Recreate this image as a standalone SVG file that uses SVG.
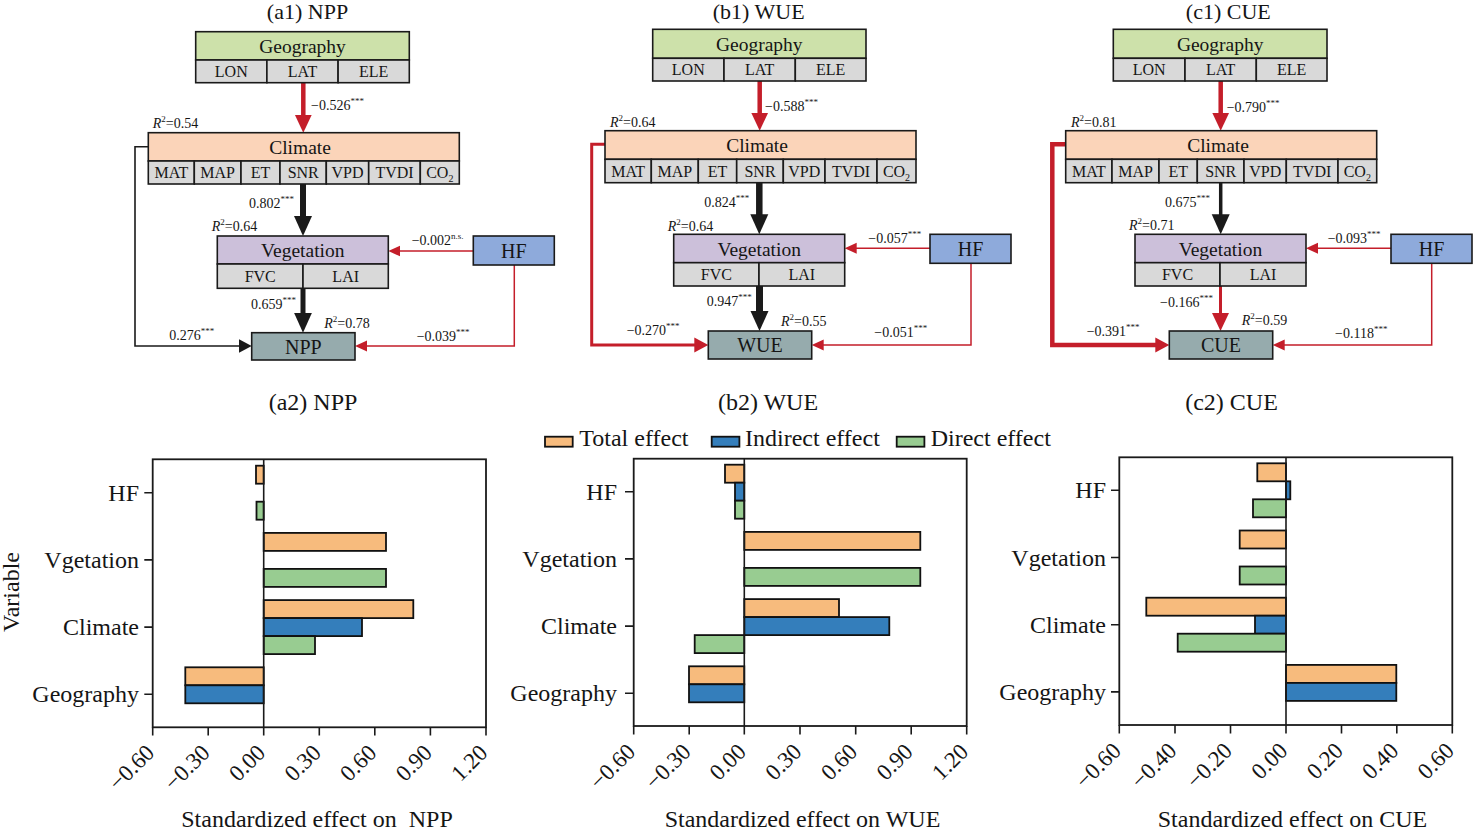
<svg xmlns="http://www.w3.org/2000/svg" width="1473" height="830" viewBox="0 0 1473 830">
<style>
text{font-family:"Liberation Serif","Times New Roman",serif;fill:#151515}
.title{font-size:24px;text-anchor:middle}
.ttop{font-size:22px;text-anchor:middle}
.hdr{font-size:19.5px;text-anchor:middle}
.cell{font-size:16px;text-anchor:middle}
.big{font-size:20px;text-anchor:middle}
.lab{font-size:14px}
.sup{font-size:9px}
.box{stroke:#1a1a1a;stroke-width:1.6}
.geo{fill:#cde1aa}.cli{fill:#fbd4b9}.veg{fill:#ccc0da}.hf{fill:#8eaadb}.out{fill:#96abad}.sub{fill:#d9d9d9}
.red{stroke:#c41e2a;fill:none;stroke-linejoin:miter}
.blk{stroke:#1a1a1a;fill:none;stroke-linejoin:miter}
.cat{font-size:24px;text-anchor:end}
.tick{font-size:23px;text-anchor:end}
.axt{font-size:24px;text-anchor:middle}
.leg{font-size:24px}
.frame{fill:none;stroke:#1a1a1a;stroke-width:1.8}
.ax{stroke:#1a1a1a;stroke-width:1.6;fill:none}
.bar{stroke:#111;stroke-width:1.8}
.tot{fill:#f7bb7d}.ind{fill:#347ebb}.dir{fill:#98cc91}
</style>
<defs>
<marker id="hBK" markerUnits="userSpaceOnUse" viewBox="0 -10 20 20" markerWidth="20" markerHeight="20" refX="1" refY="0" orient="auto"><path d="M0,-9 L20,0 L0,9 z" fill="#1a1a1a"/></marker>
<marker id="hBR" markerUnits="userSpaceOnUse" viewBox="0 -10 20 20" markerWidth="20" markerHeight="20" refX="1" refY="0" orient="auto"><path d="M0,-8.5 L18,0 L0,8.5 z" fill="#c41e2a"/></marker>
<marker id="hSR" markerUnits="userSpaceOnUse" viewBox="0 -10 20 20" markerWidth="20" markerHeight="20" refX="1" refY="0" orient="auto"><path d="M0,-5.5 L12,0 L0,5.5 z" fill="#c41e2a"/></marker>
<marker id="hMR" markerUnits="userSpaceOnUse" viewBox="0 -10 20 20" markerWidth="20" markerHeight="20" refX="1" refY="0" orient="auto"><path d="M0,-7.5 L14,0 L0,7.5 z" fill="#c41e2a"/></marker>
<marker id="hMK" markerUnits="userSpaceOnUse" viewBox="0 -10 20 20" markerWidth="20" markerHeight="20" refX="1" refY="0" orient="auto"><path d="M0,-7 L13,0 L0,7 z" fill="#1a1a1a"/></marker>
</defs>
<rect width="1473" height="830" fill="#ffffff"/>

<!-- ===== Panel a1 ===== -->
<text class="ttop" x="307.5" y="19">(a1) NPP</text>
<g id="connectors-a1">
<path class="red" stroke-width="4.5" d="M303.3,82.7 V115.7" marker-end="url(#hBR)"/>
<path class="blk" stroke-width="6" d="M303,184 V217" marker-end="url(#hBK)"/>
<path class="blk" stroke-width="5" d="M303,288.3 V313.7" marker-end="url(#hBK)"/>
<path class="red" stroke-width="1.5" d="M473.3,251 H399.3" marker-end="url(#hSR)"/>
<path class="red" stroke-width="1.5" d="M514.3,265 V346 H366" marker-end="url(#hSR)"/>
<path class="blk" stroke-width="1.6" d="M148.3,146.7 H135 V346 H239.7" marker-end="url(#hMK)"/>
<text class="lab" x="311" y="110">−0.526<tspan class="sup" dy="-6">***</tspan></text>
<text class="lab" x="249" y="208">0.802<tspan class="sup" dy="-6">***</tspan></text>
<text class="lab" x="411.7" y="245">−0.002<tspan class="sup" dy="-6">n.s.</tspan></text>
<text class="lab" x="251" y="309">0.659<tspan class="sup" dy="-6">***</tspan></text>
<text class="lab" x="169.3" y="340">0.276<tspan class="sup" dy="-6">***</tspan></text>
<text class="lab" x="416.7" y="341">−0.039<tspan class="sup" dy="-6">***</tspan></text>
</g>
<g id="a1-geography">
<rect class="box geo" x="195.7" y="31.7" width="213.6" height="28.3"/>
<rect class="box sub" x="195.7" y="60" width="71.2" height="22.7"/>
<rect class="box sub" x="266.9" y="60" width="71.2" height="22.7"/>
<rect class="box sub" x="338.1" y="60" width="71.2" height="22.7"/>
<text class="hdr" x="302.5" y="52.5">Geography</text>
<text class="cell" x="231.3" y="77">LON</text>
<text class="cell" x="302.5" y="77">LAT</text>
<text class="cell" x="373.7" y="77">ELE</text>
</g>
<g id="a1-climate">
<rect class="box cli" x="148.3" y="132.7" width="311" height="28.3"/>
<rect class="box sub" x="148.3" y="161" width="46" height="23"/>
<rect class="box sub" x="194.3" y="161" width="46.7" height="23"/>
<rect class="box sub" x="241" y="161" width="39" height="23"/>
<rect class="box sub" x="280" y="161" width="46.3" height="23"/>
<rect class="box sub" x="326.3" y="161" width="42.4" height="23"/>
<rect class="box sub" x="368.7" y="161" width="51.6" height="23"/>
<rect class="box sub" x="420.3" y="161" width="39" height="23"/>
<text class="hdr" x="300" y="153.5">Climate</text>
<text class="cell" x="171.3" y="178">MAT</text>
<text class="cell" x="217.6" y="178">MAP</text>
<text class="cell" x="260.5" y="178">ET</text>
<text class="cell" x="303.2" y="178">SNR</text>
<text class="cell" x="347.5" y="178">VPD</text>
<text class="cell" x="394.5" y="178">TVDI</text>
<text class="cell" x="439.8" y="178">CO<tspan font-size="10" dy="4">2</tspan></text>
<text class="lab" x="152.7" y="128"><tspan font-style="italic">R</tspan><tspan class="sup" dy="-6">2</tspan><tspan dy="6">=0.54</tspan></text>
</g>
<g id="a1-vegetation">
<rect class="box veg" x="217.3" y="236" width="171" height="28"/>
<rect class="box sub" x="217.3" y="264" width="85.7" height="24.3"/>
<rect class="box sub" x="303" y="264" width="85.3" height="24.3"/>
<text class="hdr" x="302.8" y="257">Vegetation</text>
<text class="cell" x="260.2" y="282">FVC</text>
<text class="cell" x="345.7" y="282">LAI</text>
<text class="lab" x="211.7" y="231"><tspan font-style="italic">R</tspan><tspan class="sup" dy="-6">2</tspan><tspan dy="6">=0.64</tspan></text>
</g>
<g id="a1-hf">
<rect class="box hf" x="473.3" y="236" width="81" height="29"/>
<text class="big" x="513.8" y="257.5">HF</text>
</g>
<g id="a1-npp">
<rect class="box out" x="251.7" y="332.7" width="103.3" height="27.3"/>
<text class="big" x="303.3" y="353.5">NPP</text>
<text class="lab" x="324.3" y="328"><tspan font-style="italic">R</tspan><tspan class="sup" dy="-6">2</tspan><tspan dy="6">=0.78</tspan></text>
</g>

<!-- ===== Panel b1 ===== -->
<text class="ttop" x="758.7" y="19">(b1) WUE</text>
<g id="connectors-b1">
<path class="red" stroke-width="4.5" d="M759.7,81 V113.7" marker-end="url(#hBR)"/>
<path class="blk" stroke-width="6.5" d="M759.3,182.7 V215.3" marker-end="url(#hBK)"/>
<path class="blk" stroke-width="7" d="M759.5,286 V312" marker-end="url(#hBK)"/>
<path class="red" stroke-width="1.5" d="M930,248.3 H855.7" marker-end="url(#hSR)"/>
<path class="red" stroke-width="1.5" d="M971,263.3 V345 H822.7" marker-end="url(#hSR)"/>
<path class="red" stroke-width="3" d="M605,144.3 H591.7 V345 H695.3" marker-end="url(#hMR)"/>
<text class="lab" x="765" y="111">−0.588<tspan class="sup" dy="-6">***</tspan></text>
<text class="lab" x="704.3" y="206.7">0.824<tspan class="sup" dy="-6">***</tspan></text>
<text class="lab" x="868.3" y="243.3">−0.057<tspan class="sup" dy="-6">***</tspan></text>
<text class="lab" x="706.7" y="306">0.947<tspan class="sup" dy="-6">***</tspan></text>
<text class="lab" x="626.7" y="335">−0.270<tspan class="sup" dy="-6">***</tspan></text>
<text class="lab" x="874.3" y="336.7">−0.051<tspan class="sup" dy="-6">***</tspan></text>
</g>
<g id="b1-geography">
<rect class="box geo" x="652.7" y="29.3" width="213.3" height="29"/>
<rect class="box sub" x="652.7" y="58.3" width="71.3" height="22.7"/>
<rect class="box sub" x="724" y="58.3" width="71.3" height="22.7"/>
<rect class="box sub" x="795.3" y="58.3" width="70.7" height="22.7"/>
<text class="hdr" x="759.3" y="50.5">Geography</text>
<text class="cell" x="688.3" y="75">LON</text>
<text class="cell" x="759.7" y="75">LAT</text>
<text class="cell" x="830.7" y="75">ELE</text>
</g>
<g id="b1-climate">
<rect class="box cli" x="605" y="130.7" width="311" height="28.6"/>
<rect class="box sub" x="605" y="159.3" width="46.3" height="23.4"/>
<rect class="box sub" x="651.3" y="159.3" width="47" height="23.4"/>
<rect class="box sub" x="698.3" y="159.3" width="38.4" height="23.4"/>
<rect class="box sub" x="736.7" y="159.3" width="46.6" height="23.4"/>
<rect class="box sub" x="783.3" y="159.3" width="41.7" height="23.4"/>
<rect class="box sub" x="825" y="159.3" width="52" height="23.4"/>
<rect class="box sub" x="877" y="159.3" width="39" height="23.4"/>
<text class="hdr" x="757" y="151.5">Climate</text>
<text class="cell" x="628.2" y="176.5">MAT</text>
<text class="cell" x="674.8" y="176.5">MAP</text>
<text class="cell" x="717.5" y="176.5">ET</text>
<text class="cell" x="760" y="176.5">SNR</text>
<text class="cell" x="804.2" y="176.5">VPD</text>
<text class="cell" x="851" y="176.5">TVDI</text>
<text class="cell" x="896.5" y="176.5">CO<tspan font-size="10" dy="4">2</tspan></text>
<text class="lab" x="610" y="127.3"><tspan font-style="italic">R</tspan><tspan class="sup" dy="-6">2</tspan><tspan dy="6">=0.64</tspan></text>
</g>
<g id="b1-vegetation">
<rect class="box veg" x="673.7" y="234.3" width="171" height="28.4"/>
<rect class="box sub" x="673.7" y="262.7" width="85.3" height="23.3"/>
<rect class="box sub" x="759" y="262.7" width="85.7" height="23.3"/>
<text class="hdr" x="759.2" y="255.5">Vegetation</text>
<text class="cell" x="716.3" y="280">FVC</text>
<text class="cell" x="801.8" y="280">LAI</text>
<text class="lab" x="667.7" y="231"><tspan font-style="italic">R</tspan><tspan class="sup" dy="-6">2</tspan><tspan dy="6">=0.64</tspan></text>
</g>
<g id="b1-hf">
<rect class="box hf" x="930" y="234.3" width="81" height="29"/>
<text class="big" x="970.5" y="256">HF</text>
</g>
<g id="b1-wue">
<rect class="box out" x="708.3" y="331" width="103.4" height="28"/>
<text class="big" x="760" y="352">WUE</text>
<text class="lab" x="781" y="326"><tspan font-style="italic">R</tspan><tspan class="sup" dy="-6">2</tspan><tspan dy="6">=0.55</tspan></text>
</g>

<!-- ===== Panel c1 ===== -->
<text class="ttop" x="1228.3" y="19">(c1) CUE</text>
<g id="connectors-c1">
<path class="red" stroke-width="4.5" d="M1220.7,81 V113.7" marker-end="url(#hBR)"/>
<path class="blk" stroke-width="3.5" d="M1220.7,182.7 V215.3" marker-end="url(#hBK)"/>
<path class="red" stroke-width="3" d="M1220.5,286 V314" marker-end="url(#hBR)"/>
<path class="red" stroke-width="1.5" d="M1391,248.3 H1317" marker-end="url(#hSR)"/>
<path class="red" stroke-width="1.5" d="M1431.7,263.3 V345 H1283.7" marker-end="url(#hSR)"/>
<path class="red" stroke-width="4.5" d="M1065.7,144.3 H1052.3 V345 H1156.3" marker-end="url(#hMR)"/>
<text class="lab" x="1226.7" y="111.7">−0.790<tspan class="sup" dy="-6">***</tspan></text>
<text class="lab" x="1165" y="206.7">0.675<tspan class="sup" dy="-6">***</tspan></text>
<text class="lab" x="1327.7" y="243.3">−0.093<tspan class="sup" dy="-6">***</tspan></text>
<text class="lab" x="1160" y="306.7">−0.166<tspan class="sup" dy="-6">***</tspan></text>
<text class="lab" x="1086.7" y="336">−0.391<tspan class="sup" dy="-6">***</tspan></text>
<text class="lab" x="1335" y="338.3">−0.118<tspan class="sup" dy="-6">***</tspan></text>
</g>
<g id="c1-geography">
<rect class="box geo" x="1113.3" y="29.3" width="213.7" height="29"/>
<rect class="box sub" x="1113.3" y="58.3" width="71.7" height="22.7"/>
<rect class="box sub" x="1185" y="58.3" width="71.3" height="22.7"/>
<rect class="box sub" x="1256.3" y="58.3" width="70.7" height="22.7"/>
<text class="hdr" x="1220.2" y="50.5">Geography</text>
<text class="cell" x="1149.2" y="75">LON</text>
<text class="cell" x="1220.7" y="75">LAT</text>
<text class="cell" x="1291.7" y="75">ELE</text>
</g>
<g id="c1-climate">
<rect class="box cli" x="1065.7" y="130.7" width="311" height="28.6"/>
<rect class="box sub" x="1065.7" y="159.3" width="46.3" height="23.4"/>
<rect class="box sub" x="1112" y="159.3" width="47" height="23.4"/>
<rect class="box sub" x="1159" y="159.3" width="38.3" height="23.4"/>
<rect class="box sub" x="1197.3" y="159.3" width="46.7" height="23.4"/>
<rect class="box sub" x="1244" y="159.3" width="42.3" height="23.4"/>
<rect class="box sub" x="1286.3" y="159.3" width="51.7" height="23.4"/>
<rect class="box sub" x="1338" y="159.3" width="38.7" height="23.4"/>
<text class="hdr" x="1218" y="151.5">Climate</text>
<text class="cell" x="1088.8" y="176.5">MAT</text>
<text class="cell" x="1135.5" y="176.5">MAP</text>
<text class="cell" x="1178.2" y="176.5">ET</text>
<text class="cell" x="1220.7" y="176.5">SNR</text>
<text class="cell" x="1265.2" y="176.5">VPD</text>
<text class="cell" x="1312.2" y="176.5">TVDI</text>
<text class="cell" x="1357.3" y="176.5">CO<tspan font-size="10" dy="4">2</tspan></text>
<text class="lab" x="1071" y="127.3"><tspan font-style="italic">R</tspan><tspan class="sup" dy="-6">2</tspan><tspan dy="6">=0.81</tspan></text>
</g>
<g id="c1-vegetation">
<rect class="box veg" x="1135" y="234.3" width="171" height="28.4"/>
<rect class="box sub" x="1135" y="262.7" width="85" height="23.3"/>
<rect class="box sub" x="1220" y="262.7" width="86" height="23.3"/>
<text class="hdr" x="1220.5" y="255.5">Vegetation</text>
<text class="cell" x="1177.5" y="280">FVC</text>
<text class="cell" x="1263" y="280">LAI</text>
<text class="lab" x="1129" y="230"><tspan font-style="italic">R</tspan><tspan class="sup" dy="-6">2</tspan><tspan dy="6">=0.71</tspan></text>
</g>
<g id="c1-hf">
<rect class="box hf" x="1391" y="234.3" width="81" height="29"/>
<text class="big" x="1431.5" y="256">HF</text>
</g>
<g id="c1-cue">
<rect class="box out" x="1169.3" y="331" width="103.4" height="28"/>
<text class="big" x="1221" y="352">CUE</text>
<text class="lab" x="1241.7" y="325"><tspan font-style="italic">R</tspan><tspan class="sup" dy="-6">2</tspan><tspan dy="6">=0.59</tspan></text>
</g>

<!-- ===== Bar charts ===== -->
<text class="title" x="313" y="410">(a2) NPP</text>
<text class="title" x="768" y="410">(b2) WUE</text>
<text class="title" x="1231.5" y="410">(c2) CUE</text>

<g id="legend">
<rect class="bar tot" x="545" y="436.7" width="27.7" height="10"/>
<text class="leg" x="579.3" y="446">Total effect</text>
<rect class="bar ind" x="711.7" y="436.7" width="27.7" height="10"/>
<text class="leg" x="745" y="446">Indirect effect</text>
<rect class="bar dir" x="896.7" y="436.7" width="27.7" height="10"/>
<text class="leg" x="930.7" y="446">Direct effect</text>
</g>

<text class="axt" transform="translate(19,592) rotate(-90)">Variable</text>

<g id="chart-a2">
<rect class="bar tot" x="256" y="465.7" width="7.7" height="18"/>
<rect class="bar dir" x="256.5" y="501.7" width="7.2" height="18"/>
<rect class="bar tot" x="263.7" y="532.9" width="122.3" height="18"/>
<rect class="bar dir" x="263.7" y="568.9" width="122.3" height="18"/>
<rect class="bar tot" x="263.7" y="600.1" width="149.6" height="18"/>
<rect class="bar ind" x="263.7" y="618.1" width="98.3" height="18"/>
<rect class="bar dir" x="263.7" y="636.1" width="51.3" height="18"/>
<rect class="bar tot" x="185.3" y="667.3" width="78.4" height="18"/>
<rect class="bar ind" x="185.3" y="685.3" width="78.4" height="18"/>
<rect class="frame" x="152.7" y="459.3" width="333.3" height="268"/>
<path class="ax" d="M263.7,459.3 V727.3"/>
<path class="ax" d="M144.3,492.7 H152.7 M144.3,559.9 H152.7 M144.3,627.1 H152.7 M144.3,694.3 H152.7"/>
<path class="ax" d="M152.7,727.3 V735.5 M208.2,727.3 V735.5 M263.7,727.3 V735.5 M319.3,727.3 V735.5 M374.8,727.3 V735.5 M430.4,727.3 V735.5 M486,727.3 V735.5"/>
<text class="cat" x="139" y="500.7">HF</text>
<text class="cat" x="139" y="567.9">Vgetation</text>
<text class="cat" x="139" y="635.1">Climate</text>
<text class="cat" x="139" y="702.3">Geography</text>
<text class="tick" transform="translate(155.7,754) rotate(-45)">−0.60</text>
<text class="tick" transform="translate(211.2,754) rotate(-45)">−0.30</text>
<text class="tick" transform="translate(266.7,754) rotate(-45)">0.00</text>
<text class="tick" transform="translate(322.3,754) rotate(-45)">0.30</text>
<text class="tick" transform="translate(377.8,754) rotate(-45)">0.60</text>
<text class="tick" transform="translate(433.4,754) rotate(-45)">0.90</text>
<text class="tick" transform="translate(489,754) rotate(-45)">1.20</text>
<text class="axt" x="317" y="827">Standardized effect on&#160; NPP</text>
</g>

<g id="chart-b2">
<rect class="bar tot" x="725" y="464.7" width="19.3" height="18"/>
<rect class="bar ind" x="735" y="482.7" width="9.3" height="18"/>
<rect class="bar dir" x="735" y="500.7" width="9.3" height="18"/>
<rect class="bar tot" x="744.3" y="531.9" width="176" height="18"/>
<rect class="bar dir" x="744.3" y="567.9" width="176" height="18"/>
<rect class="bar tot" x="744.3" y="599.1" width="94.7" height="18"/>
<rect class="bar ind" x="744.3" y="617.1" width="145" height="18"/>
<rect class="bar dir" x="694.7" y="635.1" width="49.6" height="18"/>
<rect class="bar tot" x="689" y="666.3" width="55.3" height="18"/>
<rect class="bar ind" x="689" y="684.3" width="55.3" height="18"/>
<rect class="frame" x="633.7" y="458.7" width="333" height="267.3"/>
<path class="ax" d="M744.3,458.7 V726"/>
<path class="ax" d="M625,491.7 H633.7 M625,558.9 H633.7 M625,626.1 H633.7 M625,693.3 H633.7"/>
<path class="ax" d="M633.7,726 V734.5 M689.2,726 V734.5 M744.3,726 V734.5 M800,726 V734.5 M855.7,726 V734.5 M911.2,726 V734.5 M966.7,726 V734.5"/>
<text class="cat" x="617" y="499.7">HF</text>
<text class="cat" x="617" y="566.9">Vgetation</text>
<text class="cat" x="617" y="634.1">Climate</text>
<text class="cat" x="617" y="701.3">Geography</text>
<text class="tick" transform="translate(636.7,753) rotate(-45)">−0.60</text>
<text class="tick" transform="translate(692.2,753) rotate(-45)">−0.30</text>
<text class="tick" transform="translate(747.3,753) rotate(-45)">0.00</text>
<text class="tick" transform="translate(803,753) rotate(-45)">0.30</text>
<text class="tick" transform="translate(858.7,753) rotate(-45)">0.60</text>
<text class="tick" transform="translate(914.2,753) rotate(-45)">0.90</text>
<text class="tick" transform="translate(969.7,753) rotate(-45)">1.20</text>
<text class="axt" x="802.5" y="827">Standardized effect on WUE</text>
</g>

<g id="chart-c2">
<rect class="bar tot" x="1257.3" y="463.3" width="28.7" height="18"/>
<rect class="bar ind" x="1286" y="481.3" width="4.3" height="18"/>
<rect class="bar dir" x="1253" y="499.3" width="33" height="18"/>
<rect class="bar tot" x="1239.7" y="530.5" width="46.3" height="18"/>
<rect class="bar dir" x="1239.7" y="566.5" width="46.3" height="18"/>
<rect class="bar tot" x="1146.3" y="597.7" width="139.7" height="18"/>
<rect class="bar ind" x="1255" y="615.7" width="31" height="18"/>
<rect class="bar dir" x="1177.7" y="633.7" width="108.3" height="18"/>
<rect class="bar tot" x="1286" y="664.9" width="110.3" height="18"/>
<rect class="bar ind" x="1286" y="682.9" width="110.3" height="18"/>
<rect class="frame" x="1119.3" y="457.3" width="333" height="267.7"/>
<path class="ax" d="M1286,457.3 V725"/>
<path class="ax" d="M1111,490.3 H1119.3 M1111,557.5 H1119.3 M1111,624.7 H1119.3 M1111,691.9 H1119.3"/>
<path class="ax" d="M1119.3,725 V733.5 M1175,725 V733.5 M1230.5,725 V733.5 M1286,725 V733.5 M1341.5,725 V733.5 M1396.8,725 V733.5 M1452.3,725 V733.5"/>
<text class="cat" x="1106" y="498.3">HF</text>
<text class="cat" x="1106" y="565.5">Vgetation</text>
<text class="cat" x="1106" y="632.7">Climate</text>
<text class="cat" x="1106" y="699.9">Geography</text>
<text class="tick" transform="translate(1122.3,752) rotate(-45)">−0.60</text>
<text class="tick" transform="translate(1178,752) rotate(-45)">−0.40</text>
<text class="tick" transform="translate(1233.5,752) rotate(-45)">−0.20</text>
<text class="tick" transform="translate(1289,752) rotate(-45)">0.00</text>
<text class="tick" transform="translate(1344.5,752) rotate(-45)">0.20</text>
<text class="tick" transform="translate(1399.8,752) rotate(-45)">0.40</text>
<text class="tick" transform="translate(1455.3,752) rotate(-45)">0.60</text>
<text class="axt" x="1292.5" y="827">Standardized effect on CUE</text>
</g>
</svg>
